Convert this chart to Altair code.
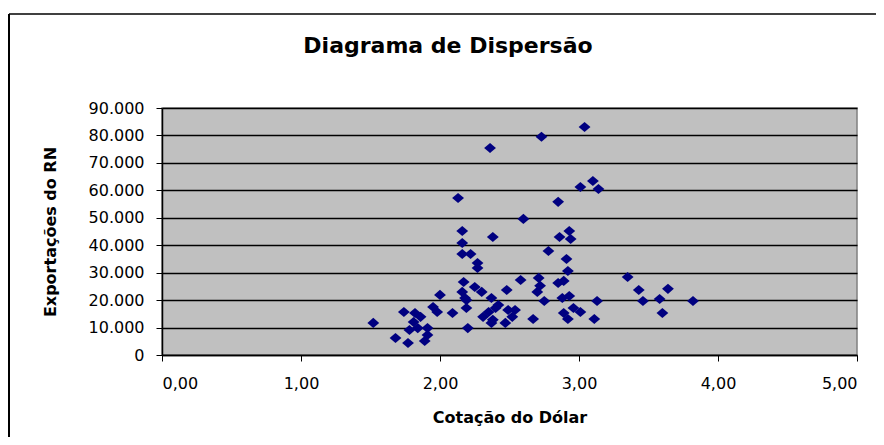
import altair as alt
import pandas as pd

cotacao_dolar = [
    1.52, 1.68, 1.74, 1.77, 1.78, 1.81, 1.82, 1.86, 1.89, 1.91, 1.91, 1.95, 1.98, 2.00, 2.09, 1.84,
    2.13, 2.16, 2.16, 2.16, 2.22, 2.27, 2.27, 2.17, 2.25, 2.30, 2.16, 2.18, 2.19, 2.19, 2.20,
    2.36, 2.38, 2.37, 2.48, 2.31, 2.35, 2.40, 2.42, 2.38, 2.37, 2.49, 2.54, 2.52, 2.47,
    2.58, 2.60, 2.67, 2.71, 2.72, 2.70, 2.75, 2.73, 2.78, 2.85, 2.86, 2.93, 2.94, 2.91, 2.92,
    2.85, 2.89, 2.88, 2.93, 2.89, 2.92, 2.96, 3.01, 3.11, 3.13, 3.01, 3.10, 3.14, 3.04,
    3.35, 3.43, 3.46, 3.58, 3.64, 3.60, 3.82,
]
exportacoes_rn = [
    11700, 6200, 15700, 4400, 9100, 12000, 15300, 13900, 5100, 7300, 9800, 17500, 15700, 21900, 15300, 9800,
    57200, 45200, 40800, 36800, 36800, 33500, 31700, 26600, 24800, 23000, 23000, 20800, 20000, 17100, 9800,
    75400, 43000, 20800, 23700, 13900, 15700, 17100, 18200, 12800, 11700, 16400, 16400, 13900, 11700,
    27300, 49600, 13100, 28100, 25200, 23000, 19700, 79500, 37900, 55800, 43000, 45200, 42300, 35000, 30600,
    26200, 27000, 20800, 21500, 15300, 13100, 17100, 15700, 13100, 19700, 61200, 63400, 60500, 83100,
    28400, 23700, 19700, 20400, 24100, 15300, 19700,
]
x_ticks = [0, 1, 2, 3, 4, 5]
y_ticks = [0, 10000, 20000, 30000, 40000, 50000, 60000, 70000, 80000, 90000]
chart_title = ["Diagrama de Dispersão"]

df = pd.DataFrame({"dolar": cotacao_dolar, "export": exportacoes_rn})
title_df = pd.DataFrame({"t": chart_title})

FONT = "DejaVu Sans"

points = alt.Chart(df).mark_point(
    shape="M-1,0L0,-0.85L1,0L0,0.85Z",
    filled=True,
    color="#000080",
    opacity=1,
    size=140,
).encode(
    x=alt.X(
        "dolar:Q",
        scale=alt.Scale(domain=[0, 5], nice=False, zero=True),
        axis=alt.Axis(
            values=x_ticks,
            grid=False,
            title="Cotação do Dólar",
            labelExpr="replace(format(datum.value, '.2f'), '.', ',')",
            labelFontSize=16,
            labelFont=FONT,
            labelColor="#000000",
            labelPadding=14,
            tickSize=6,
            tickColor="#000000",
            domainColor="#000000",
            domainWidth=1.5,
            titleFont=FONT,
            titleFontSize=16,
            titleFontWeight="bold",
            titleColor="#000000",
            titlePadding=18,
        ),
    ),
    y=alt.Y(
        "export:Q",
        scale=alt.Scale(domain=[0, 90000], nice=False),
        axis=alt.Axis(
            values=y_ticks,
            grid=True,
            gridColor="#000000",
            gridWidth=1.5,
            title="Exportações do RN",
            labelExpr="replace(format(datum.value, ',.0f'), ',', '.')",
            labelFontSize=16,
            labelFont=FONT,
            labelColor="#000000",
            labelPadding=12,
            tickSize=6,
            tickColor="#000000",
            domainColor="#000000",
            domainWidth=1.5,
            titleFont=FONT,
            titleFontSize=16,
            titleFontWeight="bold",
            titleColor="#000000",
            titlePadding=30,
        ),
    ),
)

title_text = alt.Chart(title_df).mark_text(
    font=FONT,
    fontSize=22,
    fontWeight="bold",
    color="#000000",
    align="center",
    baseline="alphabetic",
).encode(text="t:N", x=alt.value(286), y=alt.value(-55))

border_top = alt.Chart(title_df).mark_rule(color="#000000", strokeWidth=1.5).encode(
    x=alt.value(-153), x2=alt.value(714), y=alt.value(-94)
)
border_left = alt.Chart(title_df).mark_rule(color="#000000", strokeWidth=2).encode(
    x=alt.value(-153), y=alt.value(-94), y2=alt.value(329)
)

chart = alt.layer(points, title_text, border_top, border_left).properties(
    width=695,
    height=247,
    padding={"left": 154, "top": 100, "right": 19, "bottom": 82},
    autosize=alt.AutoSizeParams(type="none"),
    background="#ffffff",
).configure_view(
    fill="#C0C0C0",
    stroke="#808080",
    strokeWidth=1.5,
)

chart.save("out.html", embed_options={"renderer": "svg", "actions": False})
